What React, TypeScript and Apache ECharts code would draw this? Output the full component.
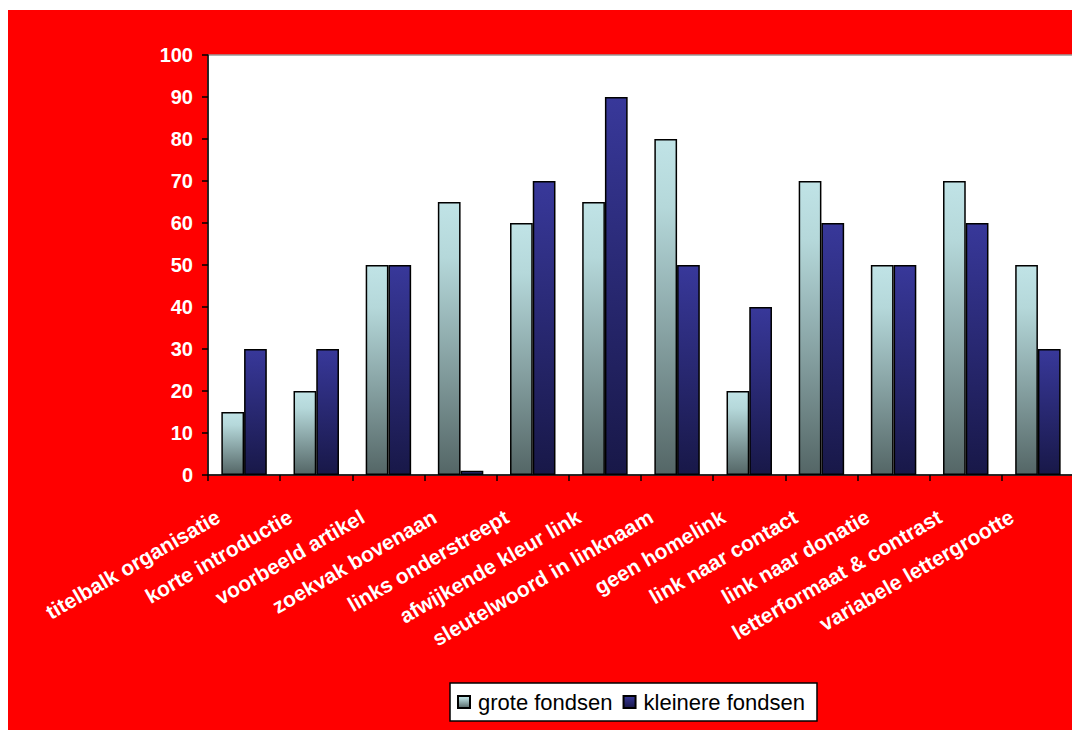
import React, { useEffect, useRef } from "react";
import * as echarts from "echarts";

const categories = [
  "titelbalk organisatie",
  "korte introductie",
  "voorbeeld artikel",
  "zoekvak bovenaan",
  "links onderstreept",
  "afwijkende kleur link",
  "sleutelwoord in linknaam",
  "geen homelink",
  "link naar contact",
  "link naar donatie",
  "letterformaat & contrast",
  "variabele lettergrootte",
];
const groteFondsen = [15, 20, 50, 65, 60, 65, 80, 20, 70, 50, 70, 50];
const kleinereFondsen = [30, 30, 50, 1, 70, 90, 50, 40, 60, 50, 60, 30];
const seriesNames = ["grote fondsen", "kleinere fondsen"];

const FONT = "'Liberation Sans', Arial, sans-serif";

export default function App() {
  const ref = useRef<HTMLDivElement>(null);
  useEffect(() => {
    if (!ref.current) return;
    const chart = echarts.init(ref.current, undefined, { renderer: "svg" });
    const groteGrad = new echarts.graphic.LinearGradient(0, 0, 0, 1, [
      { offset: 0, color: "#C0E3E6" },
      { offset: 0.2, color: "#B5D8DA" },
      { offset: 1, color: "#546666" },
    ]);
    const kleinGrad = new echarts.graphic.LinearGradient(0, 0, 0, 1, [
      { offset: 0, color: "#38389A" },
      { offset: 1, color: "#181848" },
    ]);
    chart.setOption({
      animation: false,
      backgroundColor: "#FF0000",
      textStyle: { fontFamily: FONT },
      grid: {
        left: 200,
        top: 45,
        width: 866,
        height: 420,
        show: true,
        backgroundColor: "#FFFFFF",
        borderColor: "#999999",
        borderWidth: 1.5,
        containLabel: false,
      },
      legend: {
        data: seriesNames,
        left: 442,
        top: 673,
        orient: "horizontal",
        backgroundColor: "#FFFFFF",
        borderColor: "#000000",
        borderWidth: 1.5,
        padding: [8, 12, 8, 7],
        itemWidth: 12,
        itemHeight: 12,
        itemGap: 10,
        icon: "rect",
        textStyle: { fontSize: 22, color: "#000000", fontFamily: FONT, padding: [0, 0, 0, 3] },
      },
      xAxis: {
        type: "category",
        data: categories,
        axisLine: { lineStyle: { color: "#000000", width: 1.5 } },
        axisTick: { show: true, length: 6, lineStyle: { color: "#000000", width: 1.5 } },
        axisLabel: {
          interval: 0,
          rotate: 30,
          color: "#FFFFFF",
          fontWeight: "bold",
          fontSize: 21,
          fontFamily: FONT,
          margin: 25,
          padding: [0, 30, 0, 0],
        },
        splitLine: { show: false },
      },
      yAxis: {
        type: "value",
        min: 0,
        max: 100,
        interval: 10,
        axisLine: { show: true, lineStyle: { color: "#000000", width: 1.5 } },
        axisTick: { show: true, length: 6, lineStyle: { color: "#000000", width: 1.5 } },
        axisLabel: {
          color: "#FFFFFF",
          fontWeight: "bold",
          fontSize: 20,
          fontFamily: FONT,
          margin: 15,
        },
        splitLine: { show: false },
      },
      series: [
        {
          name: seriesNames[0],
          type: "bar",
          data: groteFondsen,
          barGap: "0%",
          barCategoryGap: "37%",
          itemStyle: { color: groteGrad, borderColor: "#000000", borderWidth: 1.5 },
        },
        {
          name: seriesNames[1],
          type: "bar",
          data: kleinereFondsen,
          barGap: "0%",
          barCategoryGap: "37%",
          itemStyle: { color: kleinGrad, borderColor: "#000000", borderWidth: 1.5 },
        },
      ],
    });
    return () => chart.dispose();
  }, []);
  return (
    <div style={{ paddingTop: 2 }}>
      <div ref={ref} style={{ width: 1068, height: 720 }} />
    </div>
  );
}
